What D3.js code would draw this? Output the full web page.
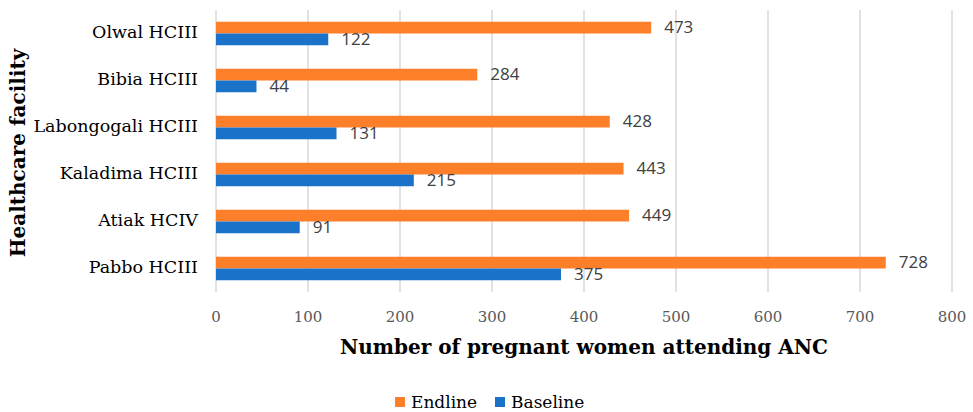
<!DOCTYPE html>
<html>
<head>
<meta charset="utf-8">
<script src="https://cdn.jsdelivr.net/npm/d3@7"></script>
<style>
  body { margin: 0; background: #fff; }
  svg { display: block; }
</style>
</head>
<body>
<div id="chart"></div>
<script>
// facilities, top to bottom as shown
const facilities = ["Olwal HCIII", "Bibia HCIII", "Labongogali HCIII", "Kaladima HCIII", "Atiak HCIV", "Pabbo HCIII"];
const endline = [473, 284, 428, 443, 449, 728];
const baseline = [122, 44, 131, 215, 91, 375];
const seriesNames = ["Endline", "Baseline"];
const xTicks = [0, 100, 200, 300, 400, 500, 600, 700, 800];

const width = 973, height = 412;
const colors = { Endline: "#FE7F2A", Baseline: "#1A73C9" };
const serif = "'DejaVu Serif', Georgia, serif";

const svg = d3.select("#chart").append("svg")
  .attr("width", width)
  .attr("height", height);

const x = d3.scaleLinear().domain([0, 800]).range([216, 952]);
const y = d3.scaleBand().domain(facilities).range([10, 292]).padding(0);
const ySub = d3.scaleBand().domain(seriesNames).range([0, y.bandwidth()])
  .paddingInner(0).paddingOuter(1.0);

// gridlines
svg.append("g")
  .selectAll("line")
  .data(xTicks)
  .enter()
  .append("line")
  .attr("x1", d => x(d)).attr("x2", d => x(d))
  .attr("y1", 10).attr("y2", 292)
  .attr("stroke", "#d9d9d9")
  .attr("stroke-width", 1.5);

// tick labels
svg.append("g")
  .selectAll("text")
  .data(xTicks)
  .enter()
  .append("text")
  .attr("x", d => x(d))
  .attr("y", 318)
  .attr("dominant-baseline", "middle")
  .attr("text-anchor", "middle")
  .style("font-family", serif)
  .style("font-size", "15px")
  .attr("fill", "#595959")
  .text(d => d);

// category labels
svg.append("g")
  .selectAll("text")
  .data(facilities)
  .enter()
  .append("text")
  .attr("x", 198)
  .attr("y", d => y(d) + y.bandwidth() / 2)
  .attr("dominant-baseline", "middle")
  .attr("text-anchor", "end")
  .style("font-family", serif)
  .style("font-size", "17.5px")
  .attr("fill", "#000")
  .text(d => d);

const rows = facilities.map((f, i) => ({ facility: f, Endline: endline[i], Baseline: baseline[i] }));

const groups = svg.append("g")
  .selectAll("g")
  .data(rows)
  .enter()
  .append("g")
  .attr("transform", d => "translate(0," + y(d.facility) + ")");

groups.selectAll("rect")
  .data(d => seriesNames.map(s => ({ key: s, value: d[s] })))
  .enter()
  .append("rect")
  .attr("x", x(0))
  .attr("y", d => ySub(d.key))
  .attr("width", d => x(d.value) - x(0))
  .attr("height", ySub.bandwidth())
  .attr("fill", d => colors[d.key]);

groups.selectAll("text")
  .data(d => seriesNames.map(s => ({ key: s, value: d[s] })))
  .enter()
  .append("text")
  .attr("x", d => x(d.value) + 13)
  .attr("y", d => ySub(d.key) + ySub.bandwidth() / 2 + 1)
  .attr("dominant-baseline", "middle")
  .style("font-family", "'Open Sans', sans-serif")
  .style("font-size", "17px")
  .attr("fill", "#404040")
  .text(d => d.value);

// axis titles
svg.append("text")
  .attr("x", 584)
  .attr("y", 348)
  .attr("dominant-baseline", "middle")
  .attr("text-anchor", "middle")
  .style("font-family", serif)
  .style("font-weight", "bold")
  .style("font-size", "20px")
  .text("Number of pregnant women attending ANC");

svg.append("text")
  .attr("transform", "translate(19,153) rotate(-90)")
  .attr("dominant-baseline", "middle")
  .attr("text-anchor", "middle")
  .style("font-family", serif)
  .style("font-weight", "bold")
  .style("font-size", "20px")
  .text("Healthcare facility");

// legend
const legendX = [395, 495];
const legend = svg.append("g")
  .selectAll("g")
  .data(seriesNames)
  .enter()
  .append("g")
  .attr("transform", (d, i) => "translate(" + legendX[i] + ",397)");

legend.append("rect")
  .attr("width", 10).attr("height", 10)
  .attr("fill", d => colors[d]);

legend.append("text")
  .attr("x", 16).attr("y", 6)
  .attr("dominant-baseline", "middle")
  .style("font-family", serif)
  .style("font-size", "17px")
  .text(d => d);
</script>
</body>
</html>
